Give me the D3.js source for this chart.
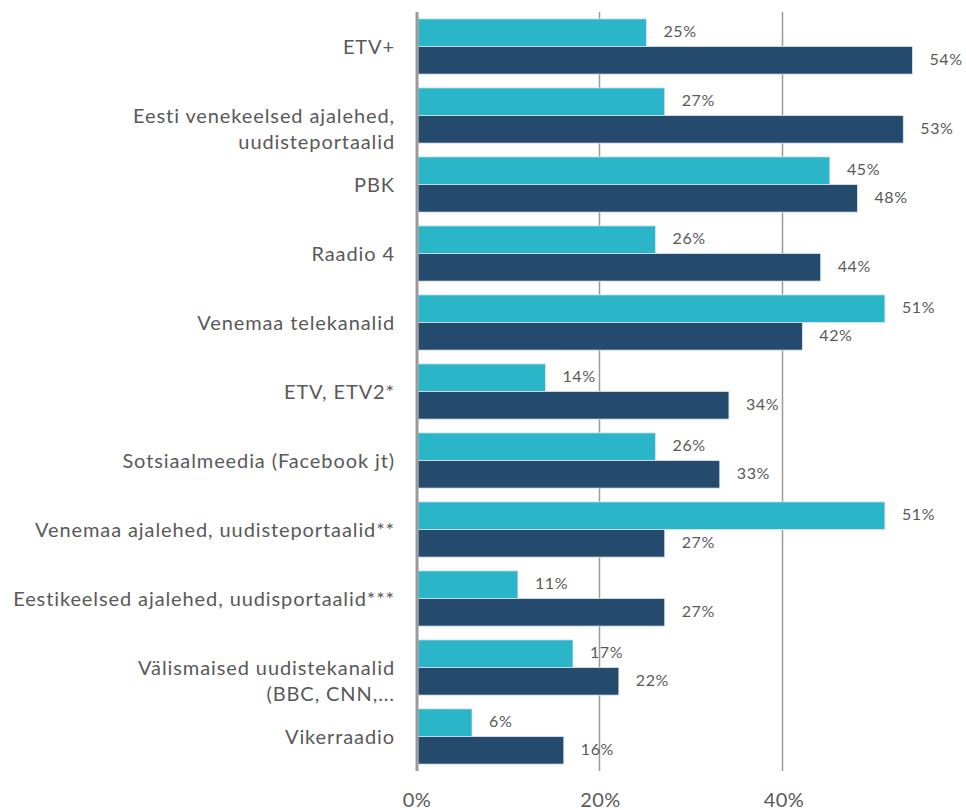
<!DOCTYPE html>
<html>
<head>
<meta charset="utf-8">
<script src="https://cdn.jsdelivr.net/npm/d3@7"></script>
<style>
  body { margin: 0; background: #fff; }
  svg text { font-family: Lato, "Open Sans", sans-serif; fill: #595959; }
</style>
</head>
<body>
<main></main>
<script>
const categories = [
  "ETV+",
  "Eesti venekeelsed ajalehed,|uudisteportaalid",
  "PBK",
  "Raadio 4",
  "Venemaa telekanalid",
  "ETV, ETV2*",
  "Sotsiaalmeedia (Facebook jt)",
  "Venemaa ajalehed, uudisteportaalid**",
  "Eestikeelsed ajalehed, uudisportaalid***",
  "Välismaised uudistekanalid|(BBC, CNN,...",
  "Vikerraadio"
];
const seriesA = [25, 27, 45, 26, 51, 14, 26, 51, 11, 17, 6];
const seriesB = [54, 53, 48, 44, 42, 34, 33, 27, 27, 22, 16];
const seriesKeys = ["a", "b"];
const tickValues = [0, 20, 40];

const width = 966, height = 810;
const x0 = 417;

const color = d3.scaleOrdinal()
    .domain(seriesKeys)
    .range(["#2bb5c9", "#244a6e"]);

const x = d3.scaleLinear()
    .domain([0, 40])
    .range([x0, 784]);

const y = d3.scaleBand()
    .domain(categories)
    .range([12, 771])
    .paddingInner(0.2)
    .paddingOuter(0.1);

const ySub = d3.scaleBand()
    .domain(seriesKeys)
    .range([0, y.bandwidth()]);

const data = categories.map((c, i) => ({cat: c, a: seriesA[i], b: seriesB[i]}));

const svg = d3.select("main").append("svg")
    .attr("width", width)
    .attr("height", height);

// gridlines
svg.append("g")
    .selectAll("line")
    .data(tickValues.filter(d => d > 0))
  .enter().append("line")
    .attr("x1", d => Math.round(x(d)) - 1.5)
    .attr("x2", d => Math.round(x(d)) - 1.5)
    .attr("y1", 12)
    .attr("y2", 771)
    .style("stroke", "#9a9a9a")
    .style("stroke-width", 1.5);

// bars
const group = svg.append("g")
    .selectAll("g")
    .data(data)
  .enter().append("g")
    .attr("transform", d => `translate(0, ${y(d.cat)})`);

group.selectAll("rect")
    .data(d => seriesKeys.map(k => ({key: k, value: d[k]})))
  .enter().append("rect")
    .attr("x", x(0) + 1)
    .attr("y", d => ySub(d.key))
    .attr("width", d => x(d.value) - x(0) - 1)
    .attr("height", ySub.bandwidth())
    .style("fill", d => color(d.key))
    .style("stroke", "#dde6ee")
    .style("stroke-width", 0.8);

group.selectAll(".val")
    .data(d => seriesKeys.map(k => ({key: k, value: d[k]})))
  .enter().append("text")
    .attr("class", "val")
    .attr("x", d => x(d.value) + 17)
    .attr("y", d => ySub(d.key) + ySub.bandwidth() / 2 - 1)
    .attr("dy", "0.35em")
    .style("font-size", "16px")
    .style("letter-spacing", "0.6px")
    .text(d => d.value + "%");

// zero axis
svg.append("line")
    .attr("x1", x(0))
    .attr("x2", x(0))
    .attr("y1", 12)
    .attr("y2", 771)
    .style("stroke", "#9a9a9a")
    .style("stroke-width", 3);

// category labels
const labels = svg.append("g")
    .selectAll("text")
    .data(categories)
  .enter().append("text")
    .attr("x", 395)
    .attr("y", d => y(d) + y.bandwidth() / 2)
    .style("text-anchor", "end")
    .style("font-size", "20px")
    .style("letter-spacing", "0.9px");

labels.selectAll("tspan")
    .data(d => d.split("|"))
  .enter().append("tspan")
    .attr("x", 395)
    .attr("dy", (d, i) => i === 0 ? "0.35em" : "1.3em")
    .text(d => d);

// x tick labels
svg.append("g")
    .selectAll("text")
    .data(tickValues)
  .enter().append("text")
    .attr("x", d => x(d))
    .attr("y", 800)
    .attr("dy", "0.35em")
    .style("text-anchor", "middle")
    .style("font-size", "20px")
    .style("letter-spacing", "0.4px")
    .text(d => d + "%");
</script>
</body>
</html>
